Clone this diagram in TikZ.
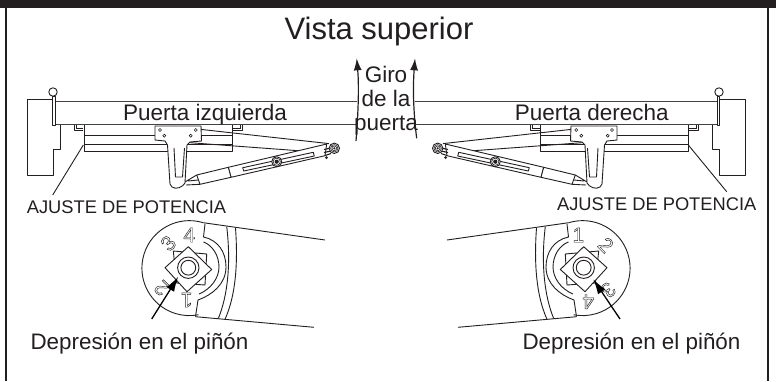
\documentclass[tikz,border=0pt]{standalone}
\usepackage{fontspec}
\setmainfont{Liberation Sans}
\usetikzlibrary{arrows.meta}
\definecolor{ink}{HTML}{231F20}
\tikzset{
  ln/.style={draw=ink,line width=0.9pt,line join=round},
  thin ln/.style={draw=ink,line width=0.6pt},
  lbl/.style={text=ink,inner sep=0pt,anchor=base,font=\fontsize{#1}{#1}\selectfont},
  num/.style={text=ink,inner sep=0pt,font=\fontsize{21}{21}\selectfont},
  big arrow/.style={draw=ink,line width=1.2pt,-{Latex[length=12pt,width=8pt]}},
  pin arrow/.style={draw=black,line width=1.3pt,-{Latex[length=15pt,width=9pt]}}
}
\newcommand{\outl}[1]{\special{pdf:code q 1 Tr 0.45 w}#1\special{pdf:code Q}}
\newcommand{\gate}{%
  % post
  \draw[ln] (54,99.5) -- (27,99.5) -- (27,175) -- (53,175) -- (53,149.5) -- (60,149.5) -- (60,125);
  % door
  \draw[ln,draw=ink!85] (54,101.7) -- (357,101.7) (54,124.7) -- (357,124.7);
  \draw[ln,fill=white] (52.5,96) rectangle (55,125);
  \draw[ln,fill=white] (53,92) circle (4.2);
  % small brackets
  \draw[ln] (74,125) -- (74,130) -- (83,130) (232,130) -- (242,130) -- (242,125);
  \draw[thin ln] (76,125) -- (76,128.5) -- (83,128.5) (232,128.5) -- (240,128.5) -- (240,125);
  % plates
  \draw[ln] (84,125) -- (84,151) -- (232,151) -- (232,125);
  \draw[ln] (84,135) -- (232,135) (84,144) -- (232,144);
  % arm
  \draw[ln] (200,129.3) -- (329,143.6);
  \draw[ln] (190,142.7) -- (298.3,150.7);
  % cylinder
  \draw[ln,fill=white] (228.3,167.3) -- (326.7,144) -- (325,155.7) -- (231,177.3) -- cycle;
  \draw[ln,fill=white] (196.7,175) -- (228.3,167.3) -- (231,177.3) -- (200,184.3) -- cycle;
  \draw[ln] (242.7,167.7) -- (313.3,152.3) -- (314.3,156) -- (243.7,171) -- cycle;
  \draw[ln] (185,182) -- (196.7,175) (186,185) -- (200,184.3) (188,181) -- (198,180);
  % mount plate and closer body
  \draw[ln,fill=white] (155,126) -- (201,126) -- (201.5,141) -- (190,142) -- (187,145) -- (185,183)
     .. controls (183,187) and (176,190) .. (172,187) -- (170,184) -- (167.5,145) -- (165,141) -- (155,140) -- cycle;
  \draw[ln] (174,148) -- (175.5,177) -- (182.5,177) -- (184.5,148);
  \foreach \p in {(160,130),(164.3,135.7),(190.7,135.7),(195.7,130)} \draw[thin ln,fill=white] \p circle (1.5);
  % pivots
  \draw[ln,fill=white] (276.7,161.7) circle (5);
  \draw[thin ln] (276.7,161.7) circle (3.6);
  \fill[ink] (276.7,161.7) circle (2.1);
  \draw[ln,line width=1.1pt] (324,149.5) -- (331,148) (324,152.5) -- (331,151) (325,155.5) -- (331,153.5);
  \fill[ink] (326.5,157.5) circle (1.5);
  \draw[ln,fill=white] (334.3,148.3) circle (5.2);
  \draw[thin ln] (334.3,148.3) circle (3.7);
  \draw[thin ln] (334.3,148.3) circle (2.4);
  \fill[ink] (334.3,148.3) circle (1.2);
}
\newcommand{\pinion}{%
  \draw[ln] (203.3,222.7) arc[start angle=-73,end angle=-281,radius=47.5];
  \draw[ln] (203.3,222.7) -- (325,240);
  \draw[ln] (195.5,316.7) -- (314,327.3);
  \draw[ln] (226.7,226.5) .. controls (231,262) and (228,295) .. (218.3,318.5);
  \draw[ln] (235.5,228) .. controls (238,262) and (236,295) .. (225,319.3);
  \draw[ln] (205,224) -- (203.5,237) .. controls (218,240) and (226,252) .. (226,267)
     .. controls (226,284) and (212,295) .. (198,300) -- (195.5,316.7);
  \draw[ln] (203.5,242) .. controls (212,245) and (219,255) .. (219,267)
     .. controls (219,278) and (211,289) .. (199,294);
  \draw[ln] (173.3,251) -- (206.7,254) -- (205,285) -- (176.7,283) -- cycle;
  \draw[ln,fill=white] (188.3,246.7) -- (211.7,269.5) -- (187,291.7) -- (165,267.7) -- cycle;
  \draw[ln] (188.3,267.7) circle (10.7);
  \draw[ln] (188.3,267.7) circle (7.4);
}
\begin{document}
\begin{tikzpicture}[x=1pt,y=-1pt]
\useasboundingbox (0,0) rectangle (776,381);
\fill[white] (0,0) rectangle (776,381);
\fill[ink] (0,0) rectangle (776,8);
\fill[ink] (5,0) rectangle (7.4,381);
\fill[ink] (767,0) rectangle (769.4,381);

\begin{scope} \gate \pinion \end{scope}
\begin{scope}[shift={(772,0)},xscale=-1] \gate \pinion \end{scope}

\draw[ln] (83.3,145) -- (52.7,195);
\draw[ln] (688.3,145) -- (726.7,191.7);

\coordinate (tailA) at (356,141);
\coordinate (headA) at (356.7,58.3);
\coordinate (tailB) at (416.7,138.3);
\coordinate (headB) at (415,58.3);
\draw[big arrow] (tailA) .. controls (358.5,110) and (359,85) .. (headA);
\draw[big arrow] (tailB) .. controls (413,110) and (413,85) .. (headB);

\node[lbl=31] (title) at (379,39) {Vista superior};
\node[lbl=22.5] (left door) at (205,120) {Puerta izquierda};
\node[lbl=22.5] (right door) at (591.7,120) {Puerta derecha};
\node[lbl=22.5] (giro) at (386,82) {Giro};
\node[lbl=22.5] (dela) at (386,106) {de la};
\node[lbl=22.5] (puerta) at (386,130) {puerta};
\node[lbl=18.3] (adjL) at (126.5,213) {AJUSTE DE POTENCIA};
\node[lbl=18.3] (adjR) at (656.7,210) {AJUSTE DE POTENCIA};
\node[lbl=22.4] (depL) at (139.5,349) {Depresión en el piñón};
\node[lbl=22.4] (depR) at (631.5,349) {Depresión en el piñón};

\node[num] (nL4) at (189.3,235) {\outl{4}};
\node[num,rotate=45] (nL3) at (168.3,243.3) {\outl{3}};
\node[num,rotate=135] (nL2) at (161.7,288.3) {\outl{2}};
\node[num,rotate=180] (nL1) at (186.7,300) {\outl{1}};
\node[num] (nR1) at (578.3,235) {\outl{1}};
\node[num,rotate=-45] (nR2) at (606,245) {\outl{2}};
\node[num,rotate=-135] (nR3) at (608.3,290) {\outl{3}};
\node[num,rotate=180] (nR4) at (588.3,301.7) {\outl{4}};

\coordinate (pinTailL) at (151.7,319);
\coordinate (pinHeadL) at (178.3,276.7);
\coordinate (pinTailR) at (620,319);
\coordinate (pinHeadR) at (593.3,279.3);
\draw[pin arrow] (pinTailL) -- (pinHeadL);
\draw[pin arrow] (pinTailR) -- (pinHeadR);
\end{tikzpicture}
\end{document}
